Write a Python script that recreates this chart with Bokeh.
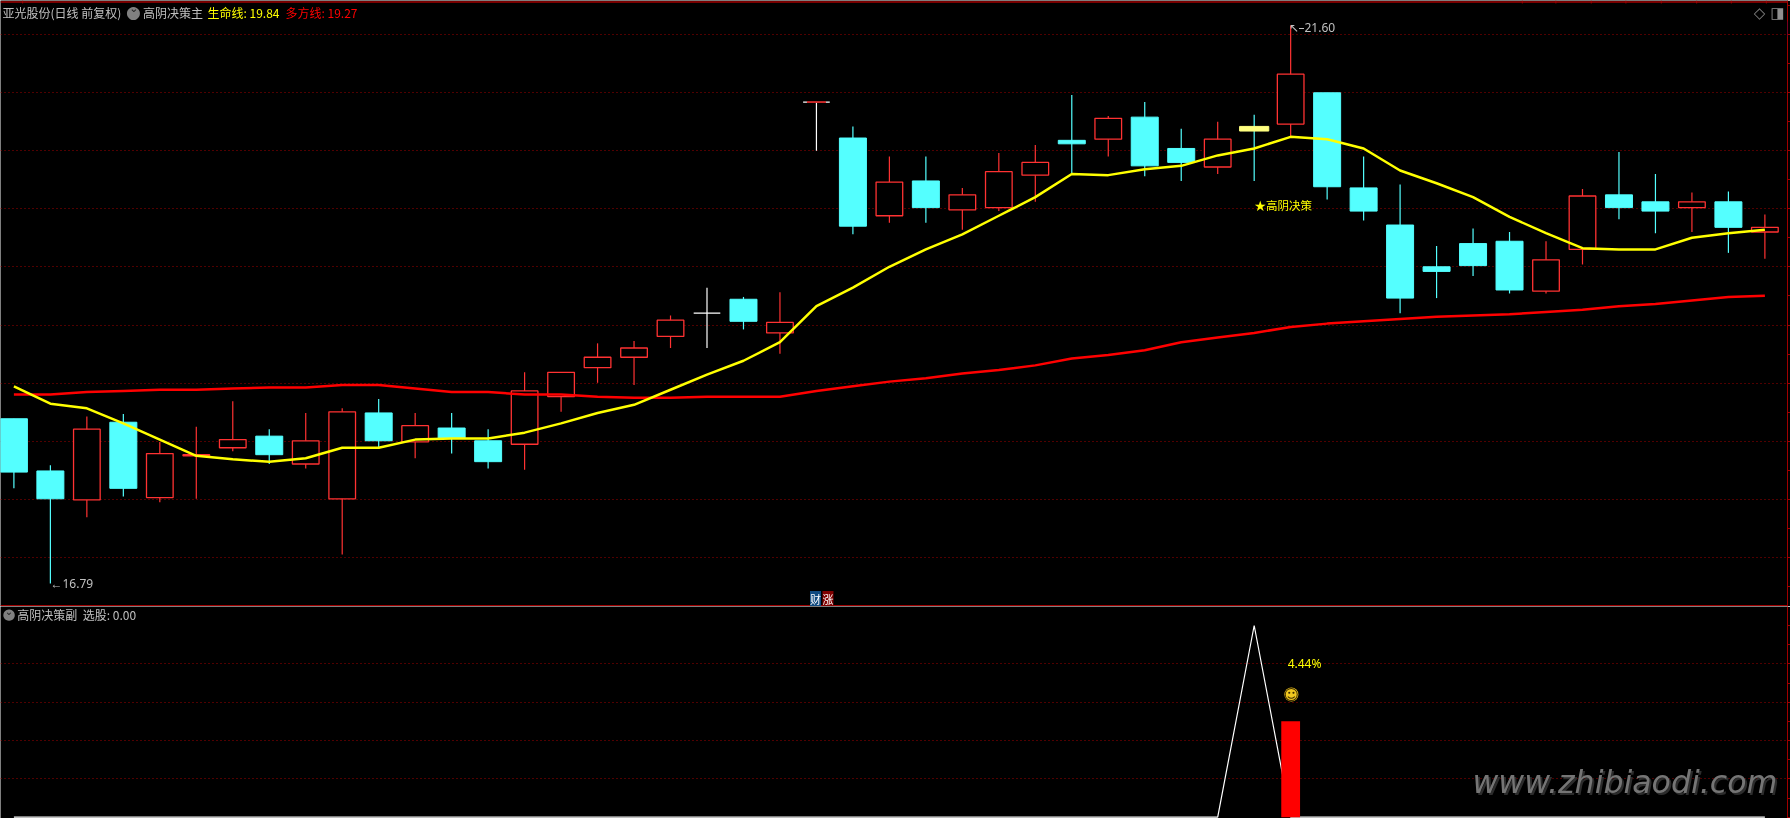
from bokeh.plotting import figure
from bokeh.layouts import column
from bokeh.models import Range1d, LinearAxis, Grid, FixedTicker, Span, Label, BoxAnnotation
from bokeh.core.properties import value
from bokeh.embed import file_html
from bokeh.resources import INLINE

# ---------- data ----------
kinds = list("ccrcrrrcrr" "crccrrrrrw" "crwcrcrrrc" "rccryrcccc" "ccrrccrcr")
highs = [18.21,17.81,18.23,18.25,18.01,18.14,18.36,18.12,18.26,18.30,18.38,18.26,18.26,18.12,18.61,18.61,18.86,
         18.88,19.10,19.34,19.26,19.30,20.94,20.73,20.47,20.47,20.20,20.50,20.57,21.00,20.82,20.94,20.71,
         20.77,20.83,21.60,21.02,20.47,20.23,19.70,19.85,19.82,19.74,20.19,20.51,20.32,20.16,20.17,19.97]
tops  = [18.21,17.76,18.12,18.18,17.91,17.90,18.03,18.06,18.02,18.27,18.26,18.15,18.13,18.02,18.45,18.61,18.74,
         18.82,19.06,19.12,19.24,19.04,20.94,20.63,20.25,20.26,20.14,20.34,20.42,20.61,20.80,20.81,20.54,
         20.62,20.73,21.18,21.02,20.20,19.88,19.52,19.72,19.74,19.58,20.13,20.14,20.08,20.08,20.08,19.86]
bots  = [17.75,17.52,17.51,17.61,17.53,17.89,17.96,17.90,17.82,17.52,18.02,18.01,18.04,17.84,17.99,18.40,18.65,
         18.74,18.92,19.12,19.05,18.95,20.94,19.87,19.96,20.03,20.01,20.03,20.31,20.58,20.62,20.39,20.42,
         20.38,20.69,20.75,20.21,20.00,19.25,19.48,19.53,19.32,19.31,19.67,20.03,20.00,20.03,19.86,19.82]
lows  = [17.61,16.79,17.36,17.54,17.49,17.52,17.93,17.82,17.78,17.04,17.95,17.87,17.91,17.78,17.77,18.27,18.52,
         18.50,18.82,18.82,18.98,18.77,20.52,19.80,19.90,19.90,19.84,20.00,20.08,20.32,20.47,20.30,20.26,
         20.32,20.26,20.63,20.10,19.92,19.12,19.25,19.44,19.29,19.29,19.54,19.93,19.81,19.82,19.64,19.59]
life_line = [18.49,18.34,18.30,18.17,18.03,17.89,17.86,17.84,17.87,17.96,17.96,18.03,18.04,18.04,18.09,18.17,18.26,
             18.33,18.46,18.59,18.71,18.87,19.18,19.34,19.52,19.67,19.80,19.96,20.12,20.32,20.31,20.36,20.39,
             20.48,20.54,20.64,20.62,20.54,20.35,20.24,20.12,19.95,19.81,19.68,19.67,19.67,19.77,19.81,19.84]
bull_line = [18.42,18.42,18.44,18.45,18.46,18.46,18.47,18.48,18.48,18.50,18.50,18.47,18.44,18.44,18.42,18.42,18.40,
             18.39,18.39,18.40,18.40,18.40,18.45,18.49,18.53,18.56,18.60,18.63,18.67,18.73,18.76,18.80,18.87,
             18.91,18.95,19.00,19.03,19.05,19.07,19.09,19.10,19.11,19.13,19.15,19.18,19.20,19.23,19.26,19.27]
pick_line = [0]*34 + [1] + [0]*14
bar_index = [35]
bar_value = [0.5]
main_grid = [21.52,21.02,20.52,20.02,19.52,19.01,18.51,18.01,17.51,17.01]
main_ticks = [21.77,21.52,21.27,21.02,20.77,20.52,20.27,20.02,19.77,19.52,19.27,19.01,18.76,18.51,18.26,18.01,17.76,17.51,17.26,17.01,16.76]
sub_grid = [0.2,0.4,0.6,0.8]
sub_ticks = [0,0.1,0.2,0.3,0.4,0.5,0.6,0.7,0.8,0.9,1.0]
top_marks = [0.24,41.35,42.27,43.24,44.19,45.16,46.13,47.08,48.04]

RED, CYAN, WHITE, PALE = "#ff3232", "#54ffff", "#ffffff", "#ffff80"
GRID = "#a00000"
CJK = "Noto Sans CJK SC"
WICK = {"r": RED, "c": CYAN, "w": WHITE, "y": CYAN}

W, H1, H2 = 1790, 606, 212
x_range = Range1d(-0.3673, 48.62)


def make_fig(height, y0, y1):
    p = figure(width=W, height=height, x_range=x_range, y_range=Range1d(y0, y1),
               x_axis_type=None, y_axis_type=None, output_backend="svg", toolbar_location=None,
               background_fill_color="black", border_fill_color="black", outline_line_color=None,
               min_border=0, min_border_left=0, min_border_right=0, min_border_top=0, min_border_bottom=0)
    return p


def add_frame(p, grid_levels, ticks):
    p.add_layout(Grid(dimension=1, ticker=FixedTicker(ticks=grid_levels), grid_line_color=GRID,
                      grid_line_dash="1 3", grid_line_width=1))
    ax = LinearAxis(ticker=FixedTicker(ticks=ticks), major_tick_in=0, major_tick_out=3, minor_tick_out=0,
                    minor_tick_in=0, major_label_standoff=0, major_label_text_font_size="0px",
                    major_label_overrides={t: "" for t in ticks},
                    axis_line_color=GRID, major_tick_line_color=GRID)
    p.add_layout(ax, "right")


def lab(p, height, text, x, y, color, size=12, font=CJK, align="left", **kw):
    p.add_layout(Label(x=x, y=height - y, x_units="screen", y_units="screen", text=text, text_color=color,
                       text_font=font, text_font_size=f"{size}px", text_align=align,
                       text_baseline="middle", **kw))


# ---------- main panel ----------
p1 = make_fig(H1, 16.5914, 21.8155)
add_frame(p1, main_grid, main_ticks)
idx = list(range(len(kinds)))
p1.segment(idx, highs, idx, lows, line_color=[WICK[k] for k in kinds], line_width=1.2)
for kind, fill, line, width, lw in (("r", "black", RED, 0.73, 1.3), ("c", CYAN, CYAN, 0.74, 1),
                                    ("w", WHITE, WHITE, 0.73, 1.3), ("y", PALE, PALE, 0.8, 1)):
    sel = [i for i in idx if kinds[i] == kind]
    p1.vbar([i for i in sel], width=width, top=[tops[i] for i in sel], bottom=[bots[i] for i in sel],
            fill_color=fill, line_color=line, line_width=lw)
doji_red = [22]
p1.vbar(doji_red, width=0.52, top=[tops[i] for i in doji_red], bottom=[bots[i] for i in doji_red],
        fill_color=GRID, line_color="#d00000", line_width=1)
p1.line(idx, bull_line, line_color="#ff0000", line_width=2.5)
p1.line(idx, life_line, line_color="#ffff00", line_width=2.5)
p1.add_layout(Span(location=21.803, dimension="width", line_color=GRID, line_width=1.5))
p1.add_layout(Span(location=16.597, dimension="width", line_color=GRID, line_width=1.5))
p1.segment(top_marks, [21.8155]*len(top_marks), top_marks, [21.79]*len(top_marks), line_color=GRID, line_width=1)
p1.add_layout(BoxAnnotation(left=1787, right=1790, top=H1 - 21, bottom=H1 - 36, left_units="screen",
                            right_units="screen", top_units="screen", bottom_units="screen",
                            fill_color="#000080", fill_alpha=1, line_color=None, level="overlay"))

lab(p1, H1, "亚光股份(日线 前复权)", 2, 12, "#c0c0c0")
lab(p1, H1, "●", 125.5, 11, "#808080", size=17, font="DejaVu Sans")
lab(p1, H1, "⌄", 128.7, 8, "#222222", size=11, font="DejaVu Sans")
lab(p1, H1, "高阴决策主", 142.4, 12, "#c0c0c0")
lab(p1, H1, "生命线: 19.84", 207, 12, "#ffff00")
lab(p1, H1, "多方线: 19.27", 285, 12, "#ff0000")
lab(p1, H1, "◇", 1759, 12, "#808080", size=15, font="DejaVu Sans", align="center")
lab(p1, H1, "◨", 1777, 12, "#909090", size=15, font="DejaVu Sans", align="center")
lab(p1, H1, "★高阴决策", 1254, 204, "#ffff00", size=11.5)
lab(p1, H1, "↖–21.60", 1288, 27, "#c0c0c0", size=12, font="Noto Sans")
lab(p1, H1, "←16.79", 50, 583, "#c0c0c0", size=12, font="Noto Sans")
lab(p1, H1, "财", 809.5, 598.5, "#ffffff", size=11, background_fill_color="#104a80")
lab(p1, H1, "涨", 822, 598.5, "#ffffff", size=11, background_fill_color="#800000")

# ---------- lower panel ----------
p2 = make_fig(H2, -0.0068, 1.0991)
add_frame(p2, sub_grid, sub_ticks)
p2.line(idx, pick_line, line_color=WHITE, line_width=1.2)
p2.vbar(bar_index, width=0.515, top=bar_value, bottom=0, fill_color="#ff0000", line_color=None)
smile_x, smile_y = [35.02], [0.64]
p2.scatter(smile_x, smile_y, size=14, fill_color="#f0c820", line_color=None)
p2.text(smile_x, smile_y, text=["☺"], text_color="#3a2a00", text_font=value("DejaVu Sans"), text_font_size="15px",
        text_align="center", text_baseline="middle")
p2.text([35.0], [0.8], text=["4.44%"], text_color="#ffff00", text_font=value("Noto Sans"), text_font_size="12px",
        x_offset=-3, text_baseline="middle")
H0 = 606
lab(p2, H2, "●", 2.0, 613.7 - H0, "#808080", size=15, font="DejaVu Sans")
lab(p2, H2, "⌄", 4.2, 610.5 - H0, "#222222", size=10, font="DejaVu Sans")
lab(p2, H2, "高阴决策副", 16.7, 614 - H0, "#c0c0c0")
lab(p2, H2, "选股: 0.00", 82.3, 614 - H0, "#c0c0c0")
lab(p2, H2, "www.zhibiaodi.com", 1474, 783.5 - H0, "#2c2c2c", size=31.6, font="DejaVu Sans", text_font_style="italic")
lab(p2, H2, "www.zhibiaodi.com", 1472, 781.5 - H0, "#757575", size=31.6, font="DejaVu Sans", text_font_style="italic")

page = column(p1, p2, spacing=0)
page.styles = {"position": "fixed", "left": "0px", "top": "0px", "box-shadow": "0 0 0 3px black"}
open("out.html", "w").write(file_html(page, INLINE))
